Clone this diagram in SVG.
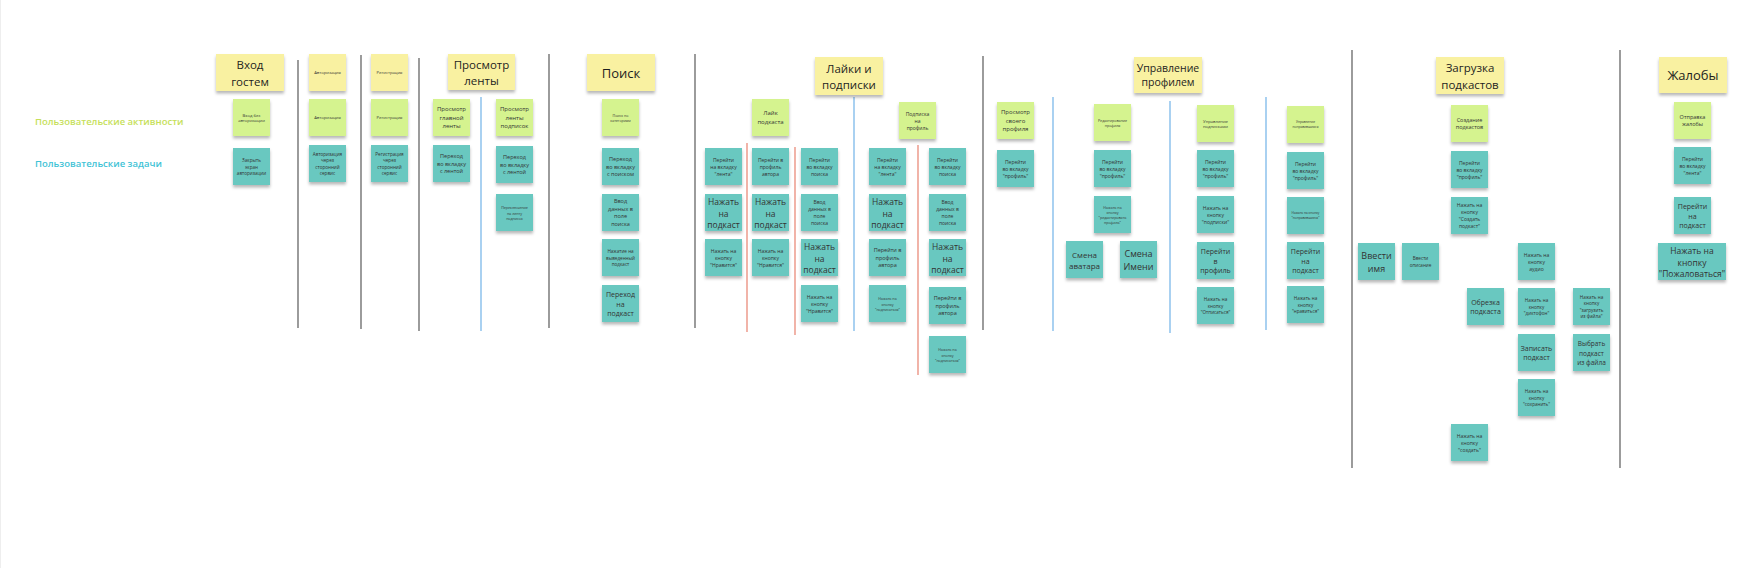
<svg xmlns="http://www.w3.org/2000/svg" width="1759" height="568" viewBox="0 0 1759 568">
<defs>
<filter id="sh" x="-20%" y="-20%" width="140%" height="160%"><feDropShadow dx="0" dy="2.5" stdDeviation="1.6" flood-color="#000" flood-opacity="0.28"/></filter>
<style>
rect.y{fill:#f9f1a1;filter:url(#sh)}
rect.g{fill:#d5f38f;filter:url(#sh)}
rect.t{fill:#69c8c0;filter:url(#sh)}
text{font-family:"Open Sans","Noto Sans","DejaVu Sans",sans-serif;text-anchor:middle;dominant-baseline:central;fill:#333}
tspan{dominant-baseline:central}
.h{font-size:11.5px;fill:#1e1e1e}
.h13{font-size:13px;fill:#1e1e1e}
.h10{font-size:10.5px;fill:#1e1e1e}
.f3{font-size:3.2px}.f35{font-size:3.6px}.f4{font-size:4.2px}.f45{font-size:4.6px}.f5{font-size:5px}.f55{font-size:5.5px}.f6{font-size:6px}.f65{font-size:6.5px}.f7{font-size:7px}.f8{font-size:8px}.f85{font-size:8.5px}.f9{font-size:9px}
.lbl{font-size:9.5px;font-weight:600;text-anchor:start}
.sep{stroke:#666;stroke-width:1.3;fill:none}
.blue{stroke:#7cb9ea;stroke-width:1.3;fill:none}
.red{stroke:#e8816f;stroke-width:1.2;fill:none}
</style>
</defs>
<rect x="0" y="0" width="1759" height="568" fill="#ffffff"/>
<line x1="0.5" y1="0" x2="0.5" y2="568" stroke="#eeeeee"/>

<g id="lanes">
<text class="lbl" x="35" y="121" fill="#c6df5a" style="fill:#c6df5a">Пользовательские активности</text>
<text class="lbl" x="35" y="163" style="fill:#3fc3d6">Пользовательские задачи</text>
</g>

<g id="connectors">
<line class="sep" x1="298" y1="60" x2="298" y2="328"/>
<line class="sep" x1="361" y1="55" x2="361" y2="329"/>
<line class="sep" x1="419" y1="58" x2="419" y2="331"/>
<line class="sep" x1="549" y1="54" x2="549" y2="328"/>
<line class="sep" x1="695" y1="54" x2="695" y2="328"/>
<line class="sep" x1="983" y1="56" x2="983" y2="330"/>
<line class="sep" x1="1352" y1="50" x2="1352" y2="468"/>
<line class="sep" x1="1620" y1="50" x2="1620" y2="468"/>
<line class="blue" x1="481" y1="97" x2="481" y2="331"/>
<line class="blue" x1="854" y1="97" x2="854" y2="331"/>
<line class="blue" x1="1053" y1="97" x2="1053" y2="331"/>
<line class="blue" x1="1170" y1="101" x2="1170" y2="333"/>
<line class="blue" x1="1266" y1="97" x2="1266" y2="330"/>
<line class="red" x1="747" y1="143" x2="747" y2="332"/>
<line class="red" x1="795" y1="147" x2="795" y2="335"/>
<line class="red" x1="918" y1="145" x2="918" y2="375"/>
</g>

<!-- headers -->
<g id="h-vhod"><rect class="y" x="216" y="54" width="68" height="37"/><text class="h" x="250" y="72.5"><tspan x="250" dy="-0.7em">Вход</tspan><tspan x="250" dy="1.4em">гостем</tspan></text></g>
<g id="h-avt"><rect class="y" x="309" y="54" width="37" height="37"/><text class="f4" x="327.5" y="72.5">Авторизация</text></g>
<g id="h-reg"><rect class="y" x="371" y="54" width="37" height="37"/><text class="f4" x="389.5" y="72.5">Регистрация</text></g>
<g id="h-lenta"><rect class="y" x="448" y="54" width="67" height="36"/><text class="h" x="481.5" y="72"><tspan x="481.5" dy="-0.7em">Просмотр</tspan><tspan x="481.5" dy="1.4em">ленты</tspan></text></g>
<g id="h-poisk"><rect class="y" x="587" y="54" width="68" height="37"/><text class="h13" x="621" y="72.5">Поиск</text></g>
<g id="h-layki"><rect class="y" x="815" y="57" width="68" height="38"/><text class="h" x="849" y="76"><tspan x="849" dy="-0.7em">Лайки и</tspan><tspan x="849" dy="1.4em">подписки</tspan></text></g>
<g id="h-uprav"><rect class="y" x="1134" y="57" width="68" height="36"/><text class="h10" x="1168" y="75"><tspan x="1168" dy="-0.7em">Управление</tspan><tspan x="1168" dy="1.4em">профилем</tspan></text></g>
<g id="h-zagr"><rect class="y" x="1436" y="57" width="68" height="37"/><text class="h" x="1470" y="75.5"><tspan x="1470" dy="-0.7em">Загрузка</tspan><tspan x="1470" dy="1.4em">подкастов</tspan></text></g>
<g id="h-zhal"><rect class="y" x="1659" y="57" width="68" height="36"/><text class="h13" x="1693" y="75">Жалобы</text></g>

<!-- activities (green) -->
<g id="a-bez"><rect class="g" x="233" y="99" width="37" height="37"/><text class="f4" x="251.5" y="117.5"><tspan x="251.5" dy="-0.7em">Вход без</tspan><tspan x="251.5" dy="1.4em">авторизации</tspan></text></g>
<g id="a-avt"><rect class="g" x="309" y="99" width="37" height="37"/><text class="f4" x="327.5" y="117.5">Авторизация</text></g>
<g id="a-reg"><rect class="g" x="371" y="99" width="37" height="37"/><text class="f4" x="389.5" y="117.5">Регистрация</text></g>
<g id="a-glav"><rect class="g" x="433" y="99" width="37" height="37"/><text class="f6" x="451.5" y="117.5"><tspan x="451.5" dy="-1.4em">Просмотр</tspan><tspan x="451.5" dy="1.4em">главной</tspan><tspan x="451.5" dy="1.4em">ленты</tspan></text></g>
<g id="a-podp"><rect class="g" x="496" y="99" width="37" height="37"/><text class="f6" x="514.5" y="117.5"><tspan x="514.5" dy="-1.4em">Просмотр</tspan><tspan x="514.5" dy="1.4em">ленты</tspan><tspan x="514.5" dy="1.4em">подписок</tspan></text></g>
<g id="a-kat"><rect class="g" x="602" y="99" width="37" height="37"/><text class="f35" x="620.5" y="117.5"><tspan x="620.5" dy="-0.7em">Поиск по</tspan><tspan x="620.5" dy="1.4em">категориям</tspan></text></g>
<g id="a-layk"><rect class="g" x="752" y="99" width="37" height="37"/><text class="f6" x="770.5" y="117.5"><tspan x="770.5" dy="-0.7em">Лайк</tspan><tspan x="770.5" dy="1.4em">подкаста</tspan></text></g>
<g id="a-podpiska"><rect class="g" x="899" y="102" width="37" height="37"/><text class="f5" x="917.5" y="120.5"><tspan x="917.5" dy="-1.4em">Подписка</tspan><tspan x="917.5" dy="1.4em">на</tspan><tspan x="917.5" dy="1.4em">профиль</tspan></text></g>
<g id="a-svoy"><rect class="g" x="997" y="102" width="37" height="37"/><text class="f6" x="1015.5" y="120.5"><tspan x="1015.5" dy="-1.4em">Просмотр</tspan><tspan x="1015.5" dy="1.4em">своего</tspan><tspan x="1015.5" dy="1.4em">профиля</tspan></text></g>
<g id="a-red"><rect class="g" x="1094" y="104" width="37" height="37"/><text class="f35" x="1112.5" y="122.5"><tspan x="1112.5" dy="-0.7em">Редактирование</tspan><tspan x="1112.5" dy="1.4em">профиля</tspan></text></g>
<g id="a-upodp"><rect class="g" x="1197" y="105" width="37" height="37"/><text class="f4" x="1215.5" y="123.5"><tspan x="1215.5" dy="-0.7em">Управление</tspan><tspan x="1215.5" dy="1.4em">подписками</tspan></text></g>
<g id="a-upon"><rect class="g" x="1287" y="106" width="37" height="37"/><text class="f3" x="1305.5" y="124.5"><tspan x="1305.5" dy="-0.7em">Управление</tspan><tspan x="1305.5" dy="1.4em">понравившимся</tspan></text></g>
<g id="a-sozd"><rect class="g" x="1451" y="105" width="37" height="37"/><text class="f55" x="1469.5" y="123.5"><tspan x="1469.5" dy="-0.7em">Создание</tspan><tspan x="1469.5" dy="1.4em">подкастов</tspan></text></g>
<g id="a-zhal"><rect class="g" x="1674" y="102" width="37" height="37"/><text class="f55" x="1692.5" y="120.5"><tspan x="1692.5" dy="-0.7em">Отправка</tspan><tspan x="1692.5" dy="1.4em">жалобы</tspan></text></g>

<!-- tasks (teal) -->
<g id="t1"><rect class="t" x="233" y="148" width="37" height="37"/><text class="f45" x="251.5" y="166.5"><tspan x="251.5" dy="-1.4em">Закрыть</tspan><tspan x="251.5" dy="1.4em">экран</tspan><tspan x="251.5" dy="1.4em">авторизации</tspan></text></g>
<g id="t2"><rect class="t" x="309" y="145" width="37" height="37"/><text class="f45" x="327.5" y="163.5"><tspan x="327.5" dy="-2.1em">Авторизация</tspan><tspan x="327.5" dy="1.4em">через</tspan><tspan x="327.5" dy="1.4em">сторонний</tspan><tspan x="327.5" dy="1.4em">сервис</tspan></text></g>
<g id="t3"><rect class="t" x="371" y="145" width="37" height="37"/><text class="f45" x="389.5" y="163.5"><tspan x="389.5" dy="-2.1em">Регистрация</tspan><tspan x="389.5" dy="1.4em">через</tspan><tspan x="389.5" dy="1.4em">сторонний</tspan><tspan x="389.5" dy="1.4em">сервис</tspan></text></g>
<g id="t4"><rect class="t" x="433" y="145" width="37" height="37"/><text class="f55" x="451.5" y="163.5"><tspan x="451.5" dy="-1.4em">Переход</tspan><tspan x="451.5" dy="1.4em">во вкладку</tspan><tspan x="451.5" dy="1.4em">с лентой</tspan></text></g>
<g id="t5"><rect class="t" x="496" y="146" width="37" height="37"/><text class="f55" x="514.5" y="164.5"><tspan x="514.5" dy="-1.4em">Переход</tspan><tspan x="514.5" dy="1.4em">во вкладку</tspan><tspan x="514.5" dy="1.4em">с лентой</tspan></text></g>
<g id="t6"><rect class="t" x="496" y="194" width="37" height="37"/><text class="f35" x="514.5" y="212.5"><tspan x="514.5" dy="-1.4em">Переключение</tspan><tspan x="514.5" dy="1.4em">на ленту</tspan><tspan x="514.5" dy="1.4em">подписок</tspan></text></g>
<g id="t7"><rect class="t" x="602" y="148" width="37" height="37"/><text class="f55" x="620.5" y="166.5"><tspan x="620.5" dy="-1.4em">Переход</tspan><tspan x="620.5" dy="1.4em">во вкладку</tspan><tspan x="620.5" dy="1.4em">с поиском</tspan></text></g>
<g id="t8"><rect class="t" x="602" y="194" width="37" height="37"/><text class="f55" x="620.5" y="212.5"><tspan x="620.5" dy="-2.1em">Ввод</tspan><tspan x="620.5" dy="1.4em">данных в</tspan><tspan x="620.5" dy="1.4em">поле</tspan><tspan x="620.5" dy="1.4em">поиска</tspan></text></g>
<g id="t9"><rect class="t" x="602" y="239" width="37" height="37"/><text class="f45" x="620.5" y="257.5"><tspan x="620.5" dy="-1.4em">Нажатие на</tspan><tspan x="620.5" dy="1.4em">выведенный</tspan><tspan x="620.5" dy="1.4em">подкаст</tspan></text></g>
<g id="t10"><rect class="t" x="602" y="285" width="37" height="37"/><text class="f7" x="620.5" y="303.5"><tspan x="620.5" dy="-1.4em">Переход</tspan><tspan x="620.5" dy="1.4em">на</tspan><tspan x="620.5" dy="1.4em">подкаст</tspan></text></g>

<g id="t11"><rect class="t" x="705" y="148" width="37" height="37"/><text class="f5" x="723.5" y="166.5"><tspan x="723.5" dy="-1.4em">Перейти</tspan><tspan x="723.5" dy="1.4em">на вкладку</tspan><tspan x="723.5" dy="1.4em">"лента"</tspan></text></g>
<g id="t12"><rect class="t" x="705" y="194" width="37" height="37"/><text class="f85" x="723.5" y="212.5"><tspan x="723.5" dy="-1.4em">Нажать</tspan><tspan x="723.5" dy="1.4em">на</tspan><tspan x="723.5" dy="1.4em">подкаст</tspan></text></g>
<g id="t13"><rect class="t" x="705" y="239" width="37" height="37"/><text class="f5" x="723.5" y="257.5"><tspan x="723.5" dy="-1.4em">Нажать на</tspan><tspan x="723.5" dy="1.4em">кнопку</tspan><tspan x="723.5" dy="1.4em">"Нравится"</tspan></text></g>
<g id="t14"><rect class="t" x="752" y="148" width="37" height="37"/><text class="f5" x="770.5" y="166.5"><tspan x="770.5" dy="-1.4em">Перейти в</tspan><tspan x="770.5" dy="1.4em">профиль</tspan><tspan x="770.5" dy="1.4em">автора</tspan></text></g>
<g id="t15"><rect class="t" x="752" y="194" width="37" height="37"/><text class="f85" x="770.5" y="212.5"><tspan x="770.5" dy="-1.4em">Нажать</tspan><tspan x="770.5" dy="1.4em">на</tspan><tspan x="770.5" dy="1.4em">подкаст</tspan></text></g>
<g id="t16"><rect class="t" x="752" y="239" width="37" height="37"/><text class="f5" x="770.5" y="257.5"><tspan x="770.5" dy="-1.4em">Нажать на</tspan><tspan x="770.5" dy="1.4em">кнопку</tspan><tspan x="770.5" dy="1.4em">"Нравится"</tspan></text></g>
<g id="t17"><rect class="t" x="801" y="148" width="37" height="37"/><text class="f5" x="819.5" y="166.5"><tspan x="819.5" dy="-1.4em">Перейти</tspan><tspan x="819.5" dy="1.4em">во вкладку</tspan><tspan x="819.5" dy="1.4em">поиска</tspan></text></g>
<g id="t18"><rect class="t" x="801" y="194" width="37" height="37"/><text class="f5" x="819.5" y="212.5"><tspan x="819.5" dy="-2.1em">Ввод</tspan><tspan x="819.5" dy="1.4em">данных в</tspan><tspan x="819.5" dy="1.4em">поле</tspan><tspan x="819.5" dy="1.4em">поиска</tspan></text></g>
<g id="t19"><rect class="t" x="801" y="239" width="37" height="37"/><text class="f85" x="819.5" y="257.5"><tspan x="819.5" dy="-1.4em">Нажать</tspan><tspan x="819.5" dy="1.4em">на</tspan><tspan x="819.5" dy="1.4em">подкаст</tspan></text></g>
<g id="t20"><rect class="t" x="801" y="285" width="37" height="37"/><text class="f5" x="819.5" y="303.5"><tspan x="819.5" dy="-1.4em">Нажать на</tspan><tspan x="819.5" dy="1.4em">кнопку</tspan><tspan x="819.5" dy="1.4em">"Нравится"</tspan></text></g>
<g id="t21"><rect class="t" x="869" y="148" width="37" height="37"/><text class="f5" x="887.5" y="166.5"><tspan x="887.5" dy="-1.4em">Перейти</tspan><tspan x="887.5" dy="1.4em">на вкладку</tspan><tspan x="887.5" dy="1.4em">"лента"</tspan></text></g>
<g id="t22"><rect class="t" x="869" y="194" width="37" height="37"/><text class="f85" x="887.5" y="212.5"><tspan x="887.5" dy="-1.4em">Нажать</tspan><tspan x="887.5" dy="1.4em">на</tspan><tspan x="887.5" dy="1.4em">подкаст</tspan></text></g>
<g id="t23"><rect class="t" x="869" y="239" width="37" height="37"/><text class="f55" x="887.5" y="257.5"><tspan x="887.5" dy="-1.4em">Перейти в</tspan><tspan x="887.5" dy="1.4em">профиль</tspan><tspan x="887.5" dy="1.4em">автора</tspan></text></g>
<g id="t24"><rect class="t" x="869" y="285" width="37" height="37"/><text class="f35" x="887.5" y="303.5"><tspan x="887.5" dy="-1.4em">Нажать на</tspan><tspan x="887.5" dy="1.4em">кнопку</tspan><tspan x="887.5" dy="1.4em">"подписаться"</tspan></text></g>
<g id="t25"><rect class="t" x="929" y="148" width="37" height="37"/><text class="f5" x="947.5" y="166.5"><tspan x="947.5" dy="-1.4em">Перейти</tspan><tspan x="947.5" dy="1.4em">во вкладку</tspan><tspan x="947.5" dy="1.4em">поиска</tspan></text></g>
<g id="t26"><rect class="t" x="929" y="194" width="37" height="37"/><text class="f5" x="947.5" y="212.5"><tspan x="947.5" dy="-2.1em">Ввод</tspan><tspan x="947.5" dy="1.4em">данных в</tspan><tspan x="947.5" dy="1.4em">поле</tspan><tspan x="947.5" dy="1.4em">поиска</tspan></text></g>
<g id="t27"><rect class="t" x="929" y="239" width="37" height="37"/><text class="f85" x="947.5" y="257.5"><tspan x="947.5" dy="-1.4em">Нажать</tspan><tspan x="947.5" dy="1.4em">на</tspan><tspan x="947.5" dy="1.4em">подкаст</tspan></text></g>
<g id="t28"><rect class="t" x="929" y="287" width="37" height="37"/><text class="f55" x="947.5" y="305.5"><tspan x="947.5" dy="-1.4em">Перейти в</tspan><tspan x="947.5" dy="1.4em">профиль</tspan><tspan x="947.5" dy="1.4em">автора</tspan></text></g>
<g id="t29"><rect class="t" x="929" y="336" width="37" height="37"/><text class="f35" x="947.5" y="354.5"><tspan x="947.5" dy="-1.4em">Нажать на</tspan><tspan x="947.5" dy="1.4em">кнопку</tspan><tspan x="947.5" dy="1.4em">"подписаться"</tspan></text></g>

<g id="t30"><rect class="t" x="997" y="150" width="37" height="37"/><text class="f5" x="1015.5" y="168.5"><tspan x="1015.5" dy="-1.4em">Перейти</tspan><tspan x="1015.5" dy="1.4em">во вкладку</tspan><tspan x="1015.5" dy="1.4em">"профиль"</tspan></text></g>
<g id="t31"><rect class="t" x="1094" y="150" width="37" height="37"/><text class="f5" x="1112.5" y="168.5"><tspan x="1112.5" dy="-1.4em">Перейти</tspan><tspan x="1112.5" dy="1.4em">во вкладку</tspan><tspan x="1112.5" dy="1.4em">"профиль"</tspan></text></g>
<g id="t32"><rect class="t" x="1094" y="196" width="37" height="37"/><text class="f35" x="1112.5" y="214.5"><tspan x="1112.5" dy="-2.1em">Нажать на</tspan><tspan x="1112.5" dy="1.4em">кнопку</tspan><tspan x="1112.5" dy="1.4em">"редактировать</tspan><tspan x="1112.5" dy="1.4em">профиль"</tspan></text></g>
<g id="t33"><rect class="t" x="1066" y="241" width="37" height="37"/><text class="f8" x="1084.5" y="259.5"><tspan x="1084.5" dy="-0.7em">Смена</tspan><tspan x="1084.5" dy="1.4em">аватара</tspan></text></g>
<g id="t34"><rect class="t" x="1120" y="241" width="37" height="37"/><text class="f9" x="1138.5" y="259.5"><tspan x="1138.5" dy="-0.7em">Смена</tspan><tspan x="1138.5" dy="1.4em">Имени</tspan></text></g>
<g id="t35"><rect class="t" x="1197" y="150" width="37" height="37"/><text class="f5" x="1215.5" y="168.5"><tspan x="1215.5" dy="-1.4em">Перейти</tspan><tspan x="1215.5" dy="1.4em">во вкладку</tspan><tspan x="1215.5" dy="1.4em">"профиль"</tspan></text></g>
<g id="t36"><rect class="t" x="1197" y="196" width="37" height="37"/><text class="f5" x="1215.5" y="214.5"><tspan x="1215.5" dy="-1.4em">Нажать на</tspan><tspan x="1215.5" dy="1.4em">кнопку</tspan><tspan x="1215.5" dy="1.4em">"подписки"</tspan></text></g>
<g id="t37"><rect class="t" x="1197" y="242" width="37" height="37"/><text class="f7" x="1215.5" y="260.5"><tspan x="1215.5" dy="-1.4em">Перейти</tspan><tspan x="1215.5" dy="1.4em">в</tspan><tspan x="1215.5" dy="1.4em">профиль</tspan></text></g>
<g id="t38"><rect class="t" x="1197" y="287" width="37" height="37"/><text class="f45" x="1215.5" y="305.5"><tspan x="1215.5" dy="-1.4em">Нажать на</tspan><tspan x="1215.5" dy="1.4em">кнопку</tspan><tspan x="1215.5" dy="1.4em">"Отписаться"</tspan></text></g>
<g id="t39"><rect class="t" x="1287" y="152" width="37" height="37"/><text class="f5" x="1305.5" y="170.5"><tspan x="1305.5" dy="-1.4em">Перейти</tspan><tspan x="1305.5" dy="1.4em">во вкладку</tspan><tspan x="1305.5" dy="1.4em">"профиль"</tspan></text></g>
<g id="t40"><rect class="t" x="1287" y="197" width="37" height="37"/><text class="f3" x="1305.5" y="215.5"><tspan x="1305.5" dy="-0.7em">Нажать на кнопку</tspan><tspan x="1305.5" dy="1.4em">"понравившиеся"</tspan></text></g>
<g id="t41"><rect class="t" x="1287" y="242" width="37" height="37"/><text class="f7" x="1305.5" y="260.5"><tspan x="1305.5" dy="-1.4em">Перейти</tspan><tspan x="1305.5" dy="1.4em">на</tspan><tspan x="1305.5" dy="1.4em">подкаст</tspan></text></g>
<g id="t42"><rect class="t" x="1287" y="286" width="37" height="37"/><text class="f45" x="1305.5" y="304.5"><tspan x="1305.5" dy="-1.4em">Нажать на</tspan><tspan x="1305.5" dy="1.4em">кнопку</tspan><tspan x="1305.5" dy="1.4em">"нравиться"</tspan></text></g>

<g id="t43"><rect class="t" x="1451" y="151" width="37" height="37"/><text class="f5" x="1469.5" y="169.5"><tspan x="1469.5" dy="-1.4em">Перейти</tspan><tspan x="1469.5" dy="1.4em">во вкладку</tspan><tspan x="1469.5" dy="1.4em">"профиль"</tspan></text></g>
<g id="t44"><rect class="t" x="1451" y="197" width="37" height="37"/><text class="f5" x="1469.5" y="215.5"><tspan x="1469.5" dy="-2.1em">Нажать на</tspan><tspan x="1469.5" dy="1.4em">кнопку</tspan><tspan x="1469.5" dy="1.4em">"Создать</tspan><tspan x="1469.5" dy="1.4em">подкаст"</tspan></text></g>
<g id="t45"><rect class="t" x="1358" y="243" width="37" height="37"/><text class="f9" x="1376.5" y="261.5"><tspan x="1376.5" dy="-0.7em">Ввести</tspan><tspan x="1376.5" dy="1.4em">имя</tspan></text></g>
<g id="t46"><rect class="t" x="1402" y="243" width="37" height="37"/><text class="f45" x="1420.5" y="261.5"><tspan x="1420.5" dy="-0.7em">Ввести</tspan><tspan x="1420.5" dy="1.4em">описание</tspan></text></g>
<g id="t47"><rect class="t" x="1518" y="243" width="37" height="37"/><text class="f5" x="1536.5" y="261.5"><tspan x="1536.5" dy="-1.4em">Нажать на</tspan><tspan x="1536.5" dy="1.4em">кнопку</tspan><tspan x="1536.5" dy="1.4em">аудио</tspan></text></g>
<g id="t48"><rect class="t" x="1467" y="288" width="37" height="37"/><text class="f7" x="1485.5" y="306.5"><tspan x="1485.5" dy="-0.7em">Обрезка</tspan><tspan x="1485.5" dy="1.4em">подкаста</tspan></text></g>
<g id="t49"><rect class="t" x="1518" y="288" width="37" height="37"/><text class="f45" x="1536.5" y="306.5"><tspan x="1536.5" dy="-1.4em">Нажать на</tspan><tspan x="1536.5" dy="1.4em">кнопку</tspan><tspan x="1536.5" dy="1.4em">"диктофон"</tspan></text></g>
<g id="t50"><rect class="t" x="1573" y="288" width="37" height="37"/><text class="f45" x="1591.5" y="306.5"><tspan x="1591.5" dy="-2.1em">Нажать на</tspan><tspan x="1591.5" dy="1.4em">кнопку</tspan><tspan x="1591.5" dy="1.4em">"загрузить</tspan><tspan x="1591.5" dy="1.4em">из файла"</tspan></text></g>
<g id="t51"><rect class="t" x="1518" y="334" width="37" height="37"/><text class="f7" x="1536.5" y="352.5"><tspan x="1536.5" dy="-0.7em">Записать</tspan><tspan x="1536.5" dy="1.4em">подкаст</tspan></text></g>
<g id="t52"><rect class="t" x="1573" y="334" width="37" height="37"/><text class="f65" x="1591.5" y="352.5"><tspan x="1591.5" dy="-1.4em">Выбрать</tspan><tspan x="1591.5" dy="1.4em">подкаст</tspan><tspan x="1591.5" dy="1.4em">из файла</tspan></text></g>
<g id="t53"><rect class="t" x="1518" y="379" width="37" height="37"/><text class="f45" x="1536.5" y="397.5"><tspan x="1536.5" dy="-1.4em">Нажать на</tspan><tspan x="1536.5" dy="1.4em">кнопку</tspan><tspan x="1536.5" dy="1.4em">"сохранить"</tspan></text></g>
<g id="t54"><rect class="t" x="1451" y="424" width="37" height="37"/><text class="f5" x="1469.5" y="442.5"><tspan x="1469.5" dy="-1.4em">Нажать на</tspan><tspan x="1469.5" dy="1.4em">кнопку</tspan><tspan x="1469.5" dy="1.4em">"создать"</tspan></text></g>

<g id="t55"><rect class="t" x="1674" y="147" width="37" height="37"/><text class="f5" x="1692.5" y="165.5"><tspan x="1692.5" dy="-1.4em">Перейти</tspan><tspan x="1692.5" dy="1.4em">во вкладку</tspan><tspan x="1692.5" dy="1.4em">"лента"</tspan></text></g>
<g id="t56"><rect class="t" x="1674" y="197" width="37" height="37"/><text class="f7" x="1692.5" y="215.5"><tspan x="1692.5" dy="-1.4em">Перейти</tspan><tspan x="1692.5" dy="1.4em">на</tspan><tspan x="1692.5" dy="1.4em">подкаст</tspan></text></g>
<g id="t57"><rect class="t" x="1658" y="243" width="68" height="37"/><text class="f85" x="1692" y="261.5"><tspan x="1692" dy="-1.4em">Нажать на</tspan><tspan x="1692" dy="1.4em">кнопку</tspan><tspan x="1692" dy="1.4em">"Пожаловаться"</tspan></text></g>
</svg>
